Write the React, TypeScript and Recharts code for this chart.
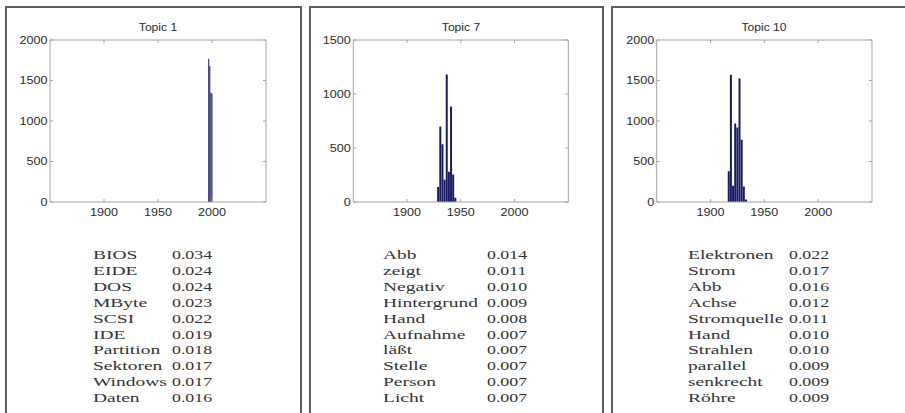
import React from 'react';
import { BarChart, Bar, XAxis, YAxis } from 'recharts';

// ---------- data ----------
const yearTicks = [1900, 1950, 2000];
const yearDomain = [1850, 2050];

const topic1Years = [1997, 1998, 1999, 2000];
const topic1Counts = [1770, 1680, 1350, 1340];

const topic7Years = [1929, 1931, 1933, 1935, 1937, 1939, 1941, 1943, 1945];
const topic7Counts = [140, 700, 535, 205, 1180, 280, 885, 255, 40];

const topic10Years = [1917, 1919, 1921, 1923, 1925, 1927, 1929, 1931, 1933];
const topic10Counts = [380, 1570, 200, 970, 920, 1525, 770, 190, 30];

const yTicks2000 = [0, 500, 1000, 1500, 2000];
const yTicks1500 = [0, 500, 1000, 1500];

const topic1Words = ['BIOS', 'EIDE', 'DOS', 'MByte', 'SCSI', 'IDE', 'Partition', 'Sektoren', 'Windows', 'Daten'];
const topic1Probs = ['0.034', '0.024', '0.024', '0.023', '0.022', '0.019', '0.018', '0.017', '0.017', '0.016'];

const topic7Words = ['Abb', 'zeigt', 'Negativ', 'Hintergrund', 'Hand', 'Aufnahme', 'läßt', 'Stelle', 'Person', 'Licht'];
const topic7Probs = ['0.014', '0.011', '0.010', '0.009', '0.008', '0.007', '0.007', '0.007', '0.007', '0.007'];

const topic10Words = ['Elektronen', 'Strom', 'Abb', 'Achse', 'Stromquelle', 'Hand', 'Strahlen', 'parallel', 'senkrecht', 'Röhre'];
const topic10Probs = ['0.022', '0.017', '0.016', '0.012', '0.011', '0.010', '0.010', '0.009', '0.009', '0.009'];

// ---------- style ----------
const SANS = '"Liberation Sans", Arial, sans-serif';
const SERIF = '"Liberation Serif", "Times New Roman", serif';
const BOX = '#a4a4a4';
const TXT = '#2b2b2b';
const BAR = '#1a1a62';
const SX = 1.2;
const TICK_FS = 10.5;
const TICK_LEN = 3;

const BottomTick = (props: any) => {
  const { x, y, payload } = props;
  return (
    <g>
      <line x1={x} x2={x} y1={y} y2={y - TICK_LEN} stroke={BOX} />
      <text
        transform={`translate(${x},${y + 10}) scale(${SX},1)`}
        textAnchor="middle"
        dy="0.35em"
        fontFamily={SANS}
        fontSize={TICK_FS}
        fill={TXT}
      >
        {payload.value}
      </text>
    </g>
  );
};

const TopTick = (props: any) => {
  const { x, y } = props;
  return <line x1={x} x2={x} y1={y} y2={y + TICK_LEN} stroke={BOX} />;
};

const LeftTick = (props: any) => {
  const { x, y, payload } = props;
  return (
    <g>
      <line x1={x} x2={x + TICK_LEN} y1={y} y2={y} stroke={BOX} />
      <text
        transform={`translate(${x - 2.5},${y}) scale(${SX},1)`}
        textAnchor="end"
        dy="0.35em"
        fontFamily={SANS}
        fontSize={TICK_FS}
        fill={TXT}
      >
        {payload.value}
      </text>
    </g>
  );
};

const RightTick = (props: any) => {
  const { x, y } = props;
  return <line x1={x} x2={x - TICK_LEN} y1={y} y2={y} stroke={BOX} />;
};

type PanelProps = {
  title: string;
  years: number[];
  counts: number[];
  yMax: number;
  yTicks: number[];
  words: string[];
  probs: string[];
  chartLeft: number;
  plotLeft: number;
  plotRight: number;
  frameLeft: number;
  frameRight: number;
  wordX: number;
  probX: number;
};

const CH_W = 305;
const CH_H = 230;
const PLOT_TOP = 40;
const PLOT_BOTTOM = 202;
const Y_AXIS_W = 40;
const X_AXIS_H = 20;
const TOP_AXIS_H = 1;
const RIGHT_AXIS_W = 1;

const Panel = (p: PanelProps) => {
  const data = p.years.map((year, i) => ({ year, count: p.counts[i] }));
  const mLeft = p.plotLeft - p.chartLeft - Y_AXIS_W;
  const mRight = CH_W - (p.plotRight - p.chartLeft) - RIGHT_AXIS_W;
  const mBottom = CH_H - PLOT_BOTTOM - X_AXIS_H;
  const mTop = PLOT_TOP - TOP_AXIS_H;
  const titleX = (p.plotLeft + p.plotRight) / 2;
  return (
    <>
      <div
        style={{
          position: 'absolute',
          left: p.frameLeft,
          top: 6,
          width: p.frameRight - p.frameLeft,
          height: 440,
          border: '2px solid #5e5e5e',
          boxSizing: 'border-box',
        }}
      />
      <div style={{ position: 'absolute', left: p.chartLeft, top: 0 }}>
        <BarChart
          width={CH_W}
          height={CH_H}
          data={data}
          margin={{ top: mTop, right: mRight, bottom: mBottom, left: mLeft }}
          barCategoryGap={0}
          barGap={0}
        >
          <XAxis
            xAxisId="bottom"
            dataKey="year"
            type="number"
            domain={yearDomain}
            ticks={yearTicks}
            orientation="bottom"
            height={X_AXIS_H}
            tickSize={0}
            tickMargin={0}
            tickLine={false}
            axisLine={{ stroke: BOX }}
            tick={<BottomTick />}
            allowDataOverflow
          />
          <XAxis
            xAxisId="top"
            dataKey="year"
            type="number"
            domain={yearDomain}
            ticks={yearTicks}
            orientation="top"
            height={TOP_AXIS_H}
            tickSize={0}
            tickMargin={0}
            tickLine={false}
            axisLine={{ stroke: BOX }}
            tick={<TopTick />}
            allowDataOverflow
          />
          <YAxis
            yAxisId="left"
            type="number"
            domain={[0, p.yMax]}
            ticks={p.yTicks}
            orientation="left"
            width={Y_AXIS_W}
            tickSize={0}
            tickMargin={0}
            tickLine={false}
            axisLine={{ stroke: BOX }}
            tick={<LeftTick />}
            allowDataOverflow
          />
          <YAxis
            yAxisId="right"
            type="number"
            domain={[0, p.yMax]}
            ticks={p.yTicks}
            orientation="right"
            width={RIGHT_AXIS_W}
            tickSize={0}
            tickMargin={0}
            tickLine={false}
            axisLine={{ stroke: BOX }}
            tick={<RightTick />}
            allowDataOverflow
          />
          <Bar
            dataKey="count"
            xAxisId="bottom"
            yAxisId="left"
            fill={BAR}
            isAnimationActive={false}
          />
        </BarChart>
      </div>
      <div
        style={{
          position: 'absolute',
          left: titleX,
          top: 26.5,
          transform: `translate(-50%, -50%) scaleX(1.1)`,
          fontFamily: SANS,
          fontSize: 11,
          color: TXT,
          whiteSpace: 'nowrap',
          lineHeight: '13px',
        }}
      >
        {p.title}
      </div>
      {p.words.map((w, i) => (
        <React.Fragment key={w + i}>
          <div
            style={{
              position: 'absolute',
              left: p.wordX,
              top: 255 + i * 15.9 - 8,
              height: 16,
              lineHeight: '16px',
              fontFamily: SERIF,
              fontSize: 13,
              color: '#333333',
              whiteSpace: 'nowrap',
              transform: 'scaleX(1.5)',
              transformOrigin: 'left center',
            }}
          >
            {w}
          </div>
          <div
            style={{
              position: 'absolute',
              left: p.probX,
              top: 255 + i * 15.9 - 8,
              height: 16,
              lineHeight: '16px',
              fontFamily: SERIF,
              fontSize: 13,
              color: '#333333',
              whiteSpace: 'nowrap',
              transform: 'scaleX(1.37)',
              transformOrigin: 'left center',
            }}
          >
            {p.probs[i]}
          </div>
        </React.Fragment>
      ))}
    </>
  );
};

export default function App() {
  return (
    <div
      style={{
        position: 'absolute',
        left: 0,
        top: 0,
        width: 905,
        height: 413,
        overflow: 'hidden',
        background: '#fff',
      }}
    >
      <Panel
        title="Topic 1"
        years={topic1Years}
        counts={topic1Counts}
        yMax={2000}
        yTicks={yTicks2000}
        words={topic1Words}
        probs={topic1Probs}
        chartLeft={0}
        plotLeft={50}
        plotRight={266}
        frameLeft={5}
        frameRight={302}
        wordX={92.7}
        probX={171.5}
      />
      <Panel
        title="Topic 7"
        years={topic7Years}
        counts={topic7Counts}
        yMax={1500}
        yTicks={yTicks1500}
        words={topic7Words}
        probs={topic7Probs}
        chartLeft={300}
        plotLeft={353.3}
        plotRight={568.3}
        frameLeft={308.5}
        frameRight={603.5}
        wordX={383.3}
        probX={486.7}
      />
      <Panel
        title="Topic 10"
        years={topic10Years}
        counts={topic10Counts}
        yMax={2000}
        yTicks={yTicks2000}
        words={topic10Words}
        probs={topic10Probs}
        chartLeft={600}
        plotLeft={656.7}
        plotRight={872}
        frameLeft={611}
        frameRight={915}
        wordX={688.3}
        probX={789}
      />
    </div>
  );
}
